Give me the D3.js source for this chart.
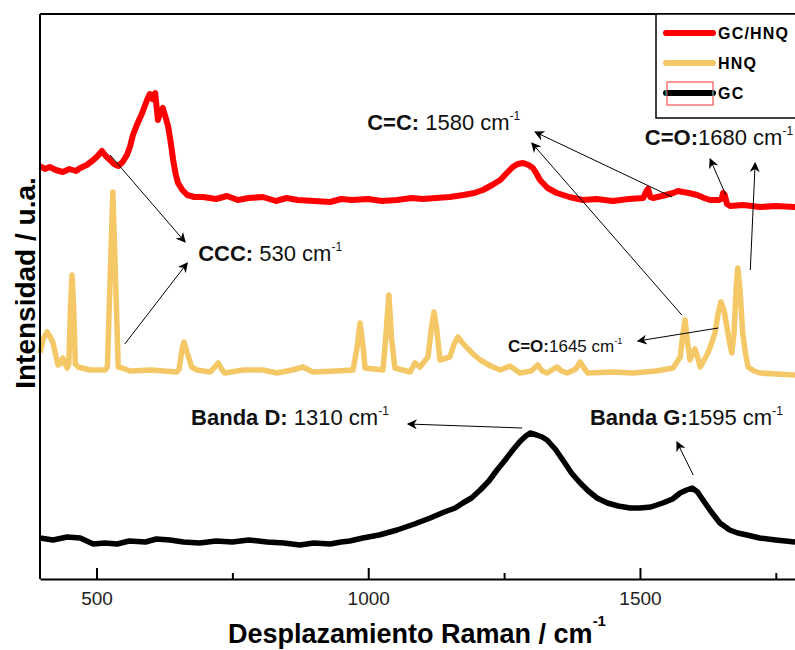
<!DOCTYPE html>
<html>
<head>
<meta charset="utf-8">
<script src="https://cdn.jsdelivr.net/npm/d3@7"></script>
<style>
  body { margin: 0; background: #fff; }
  svg { display: block; font-family: "Liberation Sans", Arial, sans-serif; }
</style>
</head>
<body>
<div id="chart"></div>
<script>
// Raman spectra, [wavenumber cm-1, intensity a.u.]
const gcHnq = [
  [396,413],[405,410],[414,412],[425,409],[438,407],[450,410],[462,408],[470,411],[482,414],[494,419],
  [502,423],[510,428],[517,423],[525,419],[532,415],[540,413],[548,417],[556,424],[562,433],[567,444],
  [575,455],[584,466],[593,479],[598,485],[603,480],[608,486],[613,459],[618,468],[622,471],[627,462],
  [632,452],[637,435],[641,419],[646,404],[650,396],[658,389],[667,384],[680,382],[696,382],[720,380],
  [740,383],[760,379],[780,381],[806,382],[830,378],[850,381],[870,379],[900,378],[930,377],[950,380],
  [970,379],[1000,380],[1025,378],[1053,379],[1080,381],[1100,380],[1125,381],[1150,382],[1175,384],
  [1195,386],[1211,389],[1228,394],[1243,399],[1255,406],[1266,412],[1275,415],[1285,416],[1295,414],
  [1303,411],[1310,405],[1316,399],[1330,391],[1347,386],[1370,382],[1395,379],[1420,380],[1450,378],
  [1480,380],[1506,381],[1512,388],[1515,390],[1519,382],[1524,381],[1540,383],[1561,386],[1570,388],
  [1579,387],[1590,386],[1605,384],[1618,381],[1629,379],[1645,379],[1650,380],[1653,386],[1656,384],
  [1660,375],[1666,373],[1690,374],[1721,372],[1750,373],[1785,372],[1800,372]
];

const hnq = [
  [396,226],[402,240],[409,247],[415,242],[420,236],[429,214],[434,216],[438,221],[442,215],[446,211],
  [449,215],[452,270],[455,304],[458,270],[461,215],[466,212],[488,209],[516,209],[520,212],[525,300],
  [530,387],[535,300],[540,212],[547,211],[562,208],[600,209],[648,207],[652,210],[658,232],[661,237],
  [667,226],[675,212],[685,209],[709,207],[718,212],[724,216],[730,210],[736,206],[770,209],[806,209],
  [832,206],[860,209],[880,212],[898,207],[940,208],[972,209],[979,230],[985,256],[991,230],[994,211],
  [1027,209],[1032,240],[1038,284],[1043,240],[1049,211],[1077,207],[1086,216],[1095,212],[1110,222],
  [1116,250],[1121,267],[1126,250],[1132,219],[1150,222],[1158,235],[1165,242],[1172,237],[1182,231],
  [1195,224],[1206,219],[1225,213],[1243,209],[1261,213],[1279,206],[1300,208],[1312,214],[1320,208],
  [1329,206],[1347,212],[1356,208],[1366,206],[1382,210],[1390,217],[1397,211],[1404,206],[1450,207],
  [1487,206],[1530,208],[1561,211],[1574,222],[1579,245],[1583,259],[1588,235],[1592,219],[1597,226],
  [1601,230],[1606,222],[1611,212],[1618,219],[1625,226],[1632,236],[1638,246],[1644,266],[1649,277],
  [1655,268],[1660,252],[1665,236],[1669,226],[1673,245],[1677,290],[1680,311],[1684,290],[1689,246],
  [1694,226],[1699,212],[1710,208],[1721,206],[1750,205],[1785,204],[1800,204]
];

const gc = [
  [396,41],[420,39],[446,42],[470,41],[482,38],[494,35],[515,36],[538,35],[560,38],[590,37],
  [610,40],[635,39],[660,37],[690,36],[720,38],[750,37],[780,39],[814,37],[845,36],[874,34],
  [900,36],[930,35],[950,37],[966,38],[990,41],[1020,44],[1053,49],[1085,55],[1114,61],[1140,67],
  [1160,71],[1174,76],[1190,81],[1206,89],[1222,98],[1237,109],[1252,119],[1266,129],[1280,138],
  [1290,143],[1298,146],[1310,144],[1320,142],[1329,139],[1344,130],[1358,119],[1374,106],[1390,96],
  [1405,88],[1421,81],[1440,76],[1460,73],[1482,71],[1500,71],[1520,72],[1542,76],[1560,80],
  [1574,86],[1586,89],[1596,91],[1606,87],[1616,79],[1630,68],[1647,56],[1665,49],[1680,46],
  [1697,44],[1720,41],[1750,39],[1785,37],[1800,37]
];

const seriesNames = ["GC/HNQ", "HNQ", "GC"];
const seriesColors = ["#ff0000", "#f4c866", "#000000"];
const seriesWidths = [6, 5.5, 5.5];
const seriesData = [gcHnq, hnq, gc];

const majorTicks = [500, 1000, 1500];
const minorTicks = [750, 1250, 1750];

// arrows: [from wavenumber, from intensity, to wavenumber, to intensity]
const arrows = [
  [525, 424, 663, 337],
  [552, 235, 667, 316],
  [1559, 382, 1307, 447],
  [1577, 264, 1301, 436],
  [1658, 384, 1629, 420],
  [1703, 309, 1712, 416],
  [1644, 251, 1496, 238],
  [1283, 151, 1073, 155],
  [1598, 104, 1568, 137]
];

// labels: [wavenumber, intensity, bold part, normal part, font size]
const labels = [
  [687, 318, "CCC:", " 530 cm", 22],
  [998, 449, "C=C:", " 1580 cm", 22],
  [1509, 434, "C=O:", "1680 cm", 22],
  [1257, 227, "C=O:", "1645 cm", 17],
  [674, 154, "Banda D:", " 1310 cm", 22],
  [1408, 154, "Banda G:", "1595 cm", 22]
];

const W = 795, H = 650;
const margin = { top: 14, left: 40, right: 803, bottom: 579 };

const svg = d3.select("#chart").append("svg")
  .attr("width", W)
  .attr("height", H);

const x = d3.scaleLinear().domain([396, 1800]).range([margin.left, margin.right]);
const y = d3.scaleLinear().domain([0, 565]).range([margin.bottom, margin.top]);

const line = d3.line()
  .x(d => x(d[0]))
  .y(d => y(d[1]));

// spectra
seriesData.forEach((data, i) => {
  svg.append("path")
    .datum(data)
    .attr("fill", "none")
    .attr("stroke", seriesColors[i])
    .attr("stroke-width", seriesWidths[i])
    .attr("stroke-linejoin", "round")
    .attr("d", line);
});

// frame: top line and left axis
svg.append("line")
  .attr("x1", margin.left).attr("x2", margin.right)
  .attr("y1", margin.top).attr("y2", margin.top)
  .attr("stroke", "#000").attr("stroke-width", 2);
svg.append("line")
  .attr("x1", margin.left).attr("x2", margin.left)
  .attr("y1", margin.top).attr("y2", margin.bottom)
  .attr("stroke", "#000").attr("stroke-width", 2);

// x axis
const xAxis = svg.append("g")
  .attr("transform", `translate(0,${margin.bottom})`)
  .call(d3.axisBottom(x).tickValues(majorTicks).tickFormat(d3.format("d"))
    .tickSizeInner(-11).tickSizeOuter(0).tickPadding(13));
xAxis.select(".domain").attr("stroke-width", 2);
xAxis.selectAll(".tick line").attr("stroke-width", 2);
xAxis.selectAll(".tick text")
  .attr("font-size", 19)
  .attr("font-family", "Liberation Sans, Arial, sans-serif")
  .attr("fill", "#222");

const xMinor = svg.append("g")
  .attr("transform", `translate(0,${margin.bottom})`)
  .call(d3.axisBottom(x).tickValues(minorTicks).tickSizeInner(-6).tickSizeOuter(0).tickFormat(""));
xMinor.select(".domain").remove();
xMinor.selectAll(".tick line").attr("stroke-width", 2);

// axis titles
const xTitle = svg.append("text")
  .attr("x", 228)
  .attr("y", 643)
  .attr("font-size", 27)
  .attr("font-weight", "bold");
xTitle.append("tspan").text("Desplazamiento Raman / cm");
xTitle.append("tspan").attr("font-size", 15).attr("dy", -17).text("-1");

svg.append("text")
  .attr("transform", "translate(35,283) rotate(-90)")
  .attr("text-anchor", "middle")
  .attr("font-size", 28)
  .attr("font-weight", "bold")
  .text("Intensidad / u.a.");

// arrows
svg.append("defs").append("marker")
  .attr("id", "arrowhead")
  .attr("viewBox", "0 0 10 10")
  .attr("refX", 9).attr("refY", 5)
  .attr("markerWidth", 14).attr("markerHeight", 10)
  .attr("markerUnits", "userSpaceOnUse")
  .attr("orient", "auto")
  .append("path")
  .attr("d", "M0,0 L10,5 L0,10 L3,5 Z")
  .attr("fill", "#000");

svg.append("g").selectAll("line")
  .data(arrows)
  .join("line")
  .attr("x1", d => x(d[0])).attr("y1", d => y(d[1]))
  .attr("x2", d => x(d[2])).attr("y2", d => y(d[3]))
  .attr("stroke", "#000")
  .attr("stroke-width", 1)
  .attr("marker-end", "url(#arrowhead)");

// annotation labels
labels.forEach(l => {
  const t = svg.append("text")
    .attr("x", x(l[0]))
    .attr("y", y(l[1]))
    .attr("font-size", l[4])
    .attr("fill", "#111");
  t.append("tspan").attr("font-weight", "bold").text(l[2]);
  t.append("tspan").text(l[3]);
  t.append("tspan").attr("font-size", l[4] * 0.55).attr("dy", -l[4] * 0.45).text("-1");
});

// legend
const legend = svg.append("g");
legend.append("rect")
  .attr("x", 656).attr("y", margin.top)
  .attr("width", 160).attr("height", 104)
  .attr("fill", "#fff")
  .attr("stroke", "#000")
  .attr("stroke-width", 1.5);

seriesNames.forEach((name, i) => {
  const ly = 33 + i * 30;
  legend.append("line")
    .attr("x1", 666).attr("x2", 713)
    .attr("y1", ly).attr("y2", ly)
    .attr("stroke", seriesColors[i])
    .attr("stroke-width", 6)
    .attr("stroke-linecap", "round");
  legend.append("text")
    .attr("x", 718)
    .attr("y", ly + 6)
    .attr("font-size", 16)
    .attr("font-weight", "bold")
    .attr("letter-spacing", 1.2)
    .text(name);
});
// selection marks around the GC sample
legend.append("rect")
  .attr("x", 667).attr("y", 82)
  .attr("width", 46).attr("height", 23)
  .attr("fill", "none")
  .attr("stroke", "#ff3030")
  .attr("stroke-width", 1);
legend.selectAll(".handle")
  .data([666, 713])
  .join("line")
  .attr("class", "handle")
  .attr("x1", d => d).attr("x2", d => d)
  .attr("y1", 90).attr("y2", 96)
  .attr("stroke", "#20c0c0")
  .attr("stroke-width", 1);
</script>
</body>
</html>
